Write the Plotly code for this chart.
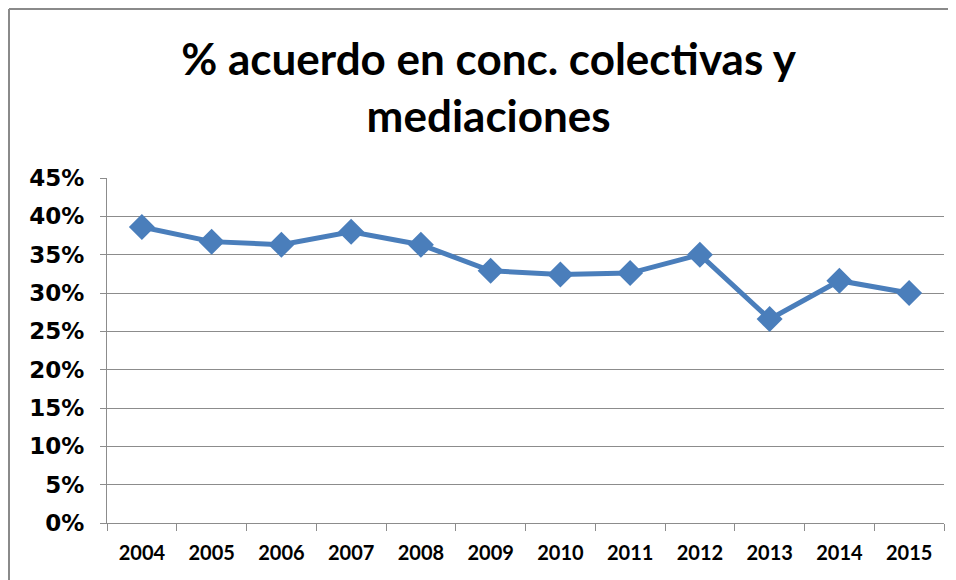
import plotly.graph_objects as go

years = ['2004', '2005', '2006', '2007', '2008', '2009',
         '2010', '2011', '2012', '2013', '2014', '2015']
acuerdo_pct = [38.6, 36.7, 36.3, 38.0, 36.3, 32.9,
               32.4, 32.6, 35.0, 26.6, 31.6, 30.0]
y_ticks = [0, 5, 10, 15, 20, 25, 30, 35, 40, 45]
y_tick_labels = [f'{v}%' for v in y_ticks]

# the page body adds an 8px margin, so the figure is a bit smaller than the window
W, H = 948, 572
L, R, T, B = 99, 12, 170, 57
plot_w = W - L - R
plot_h = H - T - B

def px_x(px):
    return (px - L) / plot_w

def px_y(py):
    return (H - B - py) / plot_h

fig = go.Figure()
fig.add_trace(go.Scatter(
    x=years, y=acuerdo_pct,
    mode='lines+markers',
    line=dict(color='#4A7EBB', width=5),
    marker=dict(symbol='diamond', size=20, color='#4A7EBB'),
))

grid_col = '#8C8C8C'
fig.update_layout(
    width=W, height=H,
    margin=dict(l=L, r=R, t=T, b=B),
    paper_bgcolor='white', plot_bgcolor='white',
    showlegend=False,
    title=dict(
        text='% acuerdo en conc. colectivas y<br>mediaciones',
        font=dict(family='Lato, Carlito, sans-serif', size=44, color='black', weight='bold'),
        x=0.507, xanchor='center', xref='container',
        y=1 - 67 / H, yanchor='top', yref='container',
    ),
    xaxis=dict(
        type='category',
        tickson='boundaries',
        ticks='outside', ticklen=7, tickcolor=grid_col,
        showline=True, linecolor=grid_col, linewidth=1,
        showgrid=False,
        tickfont=dict(family='Lato, Carlito, sans-serif', size=20, color='black', weight='bold'),
        ticklabelstandoff=12,
        range=[-0.5, 11.5],
    ),
    yaxis=dict(
        range=[0, 45],
        tickvals=y_ticks, ticktext=y_tick_labels,
        ticks='outside', ticklen=6, tickcolor=grid_col,
        showline=True, linecolor=grid_col, linewidth=1,
        showgrid=True, gridcolor=grid_col, gridwidth=1,
        zeroline=False,
        tickfont=dict(family='Verdana, DejaVu Sans, sans-serif', size=23, color='black', weight='bold'),
        ticklabelstandoff=11,
    ),
)

# chart frame (left and top edges visible in the reference)
frame = dict(color='#8A8A8A', width=2)
fig.add_shape(type='line', xref='paper', yref='paper',
              x0=px_x(1), x1=px_x(1), y0=px_y(1), y1=px_y(H + 5), line=frame)
fig.add_shape(type='line', xref='paper', yref='paper',
              x0=px_x(1), x1=px_x(W + 5), y0=px_y(1), y1=px_y(1), line=frame)

fig.write_html("out.html")
